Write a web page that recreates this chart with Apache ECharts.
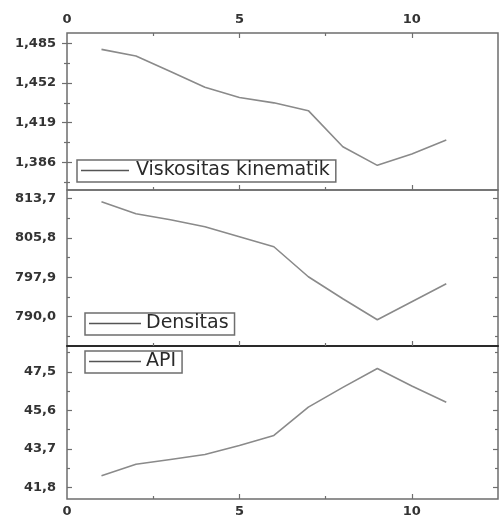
<!DOCTYPE html>
<html>
<head>
<meta charset="utf-8">
<script src="https://cdn.jsdelivr.net/npm/echarts@6/dist/echarts.min.js"></script>
<style>
  html, body { margin: 0; padding: 0; background: #fff; }
  #chart { width: 499px; height: 518px; }
</style>
</head>
<body>
<div id="chart"></div>
<script>
// data
const xValues = [1, 2, 3, 4, 5, 6, 7, 8, 9, 10, 11];
const viskositas = [1.480, 1.4745, 1.4615, 1.4485, 1.440, 1.4355, 1.4290, 1.399, 1.3835, 1.393, 1.4045];
const densitas = [813.0, 810.6, 809.4, 808.0, 806.0, 804.0, 798.0, 793.6, 789.4, 793.0, 796.6];
const api = [42.38, 42.94, 43.18, 43.42, 43.87, 44.36, 45.76, 46.73, 47.66, 46.80, 46.00];

// tick labels
const xMajor = [0, 5, 10];
const xMinor = [2.5, 7.5];
const viskMajor = [1.386, 1.419, 1.452, 1.485];
const viskMinor = [1.3695, 1.4025, 1.4355, 1.4685];
const densMajor = [790.0, 797.9, 805.8, 813.7];
const densMinor = [786.05, 793.95, 801.85, 809.75];
const apiMajor = [41.8, 43.7, 45.6, 47.5];
const apiMinor = [42.75, 44.65, 46.55, 48.45];

const lineColor = '#8a8a8a';
const frameColor = '#6e6e6e';
const labelStyle = { color: '#333', fontFamily: 'DejaVu Sans', fontSize: 13, fontWeight: 'bold' };

const chart = echarts.init(document.getElementById('chart'), null, { renderer: 'canvas' });

const panels = [
    { top: 33, height: 157, min: 1.363, max: 1.4936, major: viskMajor, minor: viskMinor, digits: 3, data: viskositas, name: 'Viskositas kinematik', legend: { left: 77, top: 160, itemWidth: 48, gap: 2 } },
    { top: 190, height: 156, min: 784.14, max: 815.36, major: densMajor, minor: densMinor, digits: 1, data: densitas, name: 'Densitas', legend: { left: 85, top: 313, itemWidth: 52, gap: 0 } },
    { top: 346, height: 156, min: 41.23, max: 48.77, major: apiMajor, minor: apiMinor, digits: 1, data: api, name: 'API', legend: { left: 85, top: 351, itemWidth: 52, gap: 0 } }
];

const grid = [];
const xAxis = [];
const yAxis = [];
const series = [];
const legend = [];

const tickAxis = (extra) => Object.assign({
    type: 'value',
    axisLine: { show: false },
    splitLine: { show: false },
    axisLabel: { show: false },
    axisTick: { show: true, inside: true, length: 5, lineStyle: { color: frameColor, width: 1.2 } }
}, extra);

const ticks = (values, length) => ({
    show: true, inside: true, length, customValues: values,
    lineStyle: { color: frameColor, width: 1.2 }
});

panels.forEach((p, i) => {
    grid.push({
        left: 67, right: 1, top: p.top, height: p.height,
        show: true, borderColor: frameColor, borderWidth: 1.5, backgroundColor: 'transparent'
    });

    const xMain = xAxis.length;
    // bottom major ticks (labels only on the last panel)
    xAxis.push(tickAxis({
        gridIndex: i, position: 'bottom', min: 0, max: 12.5,
        axisLine: i === 1
            ? { show: true, lineStyle: { color: '#2a2a2a', width: 2 } }
            : { show: false },
        axisTick: ticks(xMajor.slice(1), 5),
        axisLabel: i === 2
            ? Object.assign({ show: true, margin: 6, customValues: xMajor }, labelStyle)
            : { show: false }
    }));
    xAxis.push(tickAxis({ gridIndex: i, position: 'bottom', min: 0, max: 12.5, axisTick: ticks(xMinor, 3) }));
    if (i === 0) {
        xAxis.push(tickAxis({
            gridIndex: i, position: 'top', min: 0, max: 12.5,
            axisTick: ticks(xMajor.slice(1), 5),
            axisLabel: Object.assign({ show: true, margin: 7, customValues: xMajor }, labelStyle)
        }));
        xAxis.push(tickAxis({ gridIndex: i, position: 'top', min: 0, max: 12.5, axisTick: ticks(xMinor, 3) }));
    }

    const yMain = yAxis.length;
    yAxis.push(tickAxis({
        gridIndex: i, position: 'left', min: p.min, max: p.max,
        axisTick: ticks(p.major, 5),
        axisLabel: Object.assign({
            show: true, margin: 11, customValues: p.major,
            formatter: v => v.toFixed(p.digits).replace('.', ',')
        }, labelStyle)
    }));
    yAxis.push(tickAxis({ gridIndex: i, position: 'left', min: p.min, max: p.max, axisTick: ticks(p.minor, 3) }));
    yAxis.push(tickAxis({ gridIndex: i, position: 'right', min: p.min, max: p.max, axisTick: ticks(p.major, 5) }));
    yAxis.push(tickAxis({ gridIndex: i, position: 'right', min: p.min, max: p.max, axisTick: ticks(p.minor, 3) }));

    series.push({
        name: p.name,
        type: 'line',
        xAxisIndex: xMain,
        yAxisIndex: yMain,
        data: xValues.map((x, k) => [x, p.data[k]]),
        symbol: 'none',
        lineStyle: { color: lineColor, width: 1.6 },
        itemStyle: { color: lineColor }
    });

    legend.push({
        data: [{ name: p.name, icon: 'rect' }],
        left: p.legend.left,
        top: p.legend.top,
        itemWidth: p.legend.itemWidth,
        itemHeight: 1.5,
        padding: [1, 6, 2, 4],
        borderColor: frameColor,
        borderWidth: 1.5,
        backgroundColor: '#fff',
        selectedMode: false,
        itemStyle: { color: '#555' },
        textStyle: { color: '#2a2a2a', fontFamily: 'DejaVu Sans', fontSize: 19, padding: [0, 0, 0, p.legend.gap] }
    });
});

chart.setOption({
    backgroundColor: '#fff',
    animation: false,
    grid,
    xAxis,
    yAxis,
    legend,
    series
});
</script>
</body>
</html>
